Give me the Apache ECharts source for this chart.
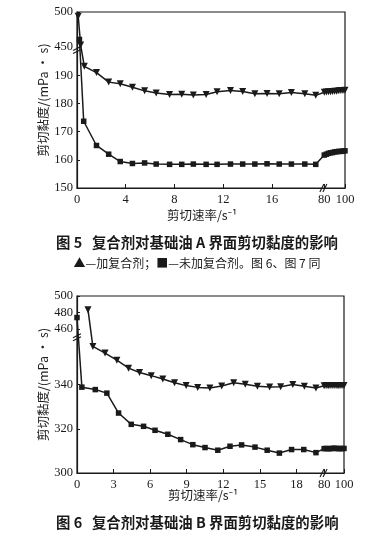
<!DOCTYPE html>
<html><head><meta charset="utf-8">
<script src="https://cdn.jsdelivr.net/npm/echarts@6/dist/echarts.min.js"></script>
<style>html,body{margin:0;padding:0;background:#fff}#c{width:381px;height:541px}</style>
</head><body><div id="c"></div>
<script>
// ---- Fig. 5 : base oil A ----
const xA_add  = [0.1, 0.3, 0.6, 1.6, 2.6, 3.55, 4.55, 5.55, 6.5, 7.6, 8.6, 9.55, 10.6, 11.5, 12.6, 13.6, 14.6, 15.6, 16.6, 17.6, 18.7, 19.6, 80, 82, 84, 86, 88, 90, 92, 94, 96, 98, 100];
const yA_add  = [494, 453, 193.2, 191.0, 187.6, 187.0, 185.8, 184.5, 183.7, 183.2, 183.3, 183.0, 183.2, 184.2, 184.6, 184.3, 183.5, 183.6, 183.5, 183.9, 183.5, 182.9, 184.0, 184.1, 184.2, 184.2, 184.3, 184.4, 184.4, 184.5, 184.6, 184.6, 184.7];
const xA_none = [0.2, 0.55, 1.6, 2.6, 3.55, 4.55, 5.55, 6.5, 7.6, 8.6, 9.55, 10.6, 11.5, 12.6, 13.6, 14.6, 15.6, 16.6, 17.6, 18.7, 19.6, 80, 82, 84, 86, 88, 90, 92, 94, 96, 98, 100];
const yA_none = [461, 173.7, 165.1, 162.0, 159.4, 158.7, 158.9, 158.5, 158.4, 158.4, 158.5, 158.4, 158.4, 158.5, 158.5, 158.5, 158.6, 158.5, 158.5, 158.5, 158.4, 161.7, 162.0, 162.3, 162.5, 162.6, 162.8, 162.9, 163.0, 163.0, 163.1, 163.2];
const xTicksA = [0, 4, 8, 12, 16, 80, 100];
const yTicksA = [150, 160, 170, 180, 190, 450, 500];

// ---- Fig. 6 : base oil B ----
const xB_add  = [0.9, 1.3, 2.3, 3.27, 4.23, 5.13, 6.09, 7.04, 8.0, 8.95, 9.9, 10.9, 11.87, 12.85, 13.8, 14.8, 15.8, 16.7, 17.7, 18.65, 19.6, 80, 82, 84, 86, 88, 90, 92, 94, 96, 98, 100];
const yB_add  = [483.5, 357.2, 354.2, 351.0, 347.4, 345.4, 344.0, 342.5, 340.8, 339.5, 338.7, 338.4, 339.3, 340.8, 340.1, 339.2, 338.9, 339.0, 340.0, 339.2, 338.4, 339.4, 339.5, 339.4, 339.5, 339.6, 339.5, 339.5, 339.4, 339.5, 339.6, 339.5];
const xB_none = [0, 0.4, 1.5, 2.45, 3.41, 4.45, 5.46, 6.4, 7.45, 8.5, 9.5, 10.5, 11.55, 12.55, 13.5, 14.6, 15.6, 16.6, 17.6, 18.6, 19.6, 80, 82, 84, 86, 88, 90, 92, 94, 96, 98, 100];
const yB_none = [474, 338.8, 337.7, 336.1, 327.1, 322.0, 321.1, 319.3, 317.5, 315.1, 312.8, 311.5, 310.3, 312.1, 312.7, 311.7, 310.3, 309.0, 310.6, 310.6, 309.2, 311.0, 311.1, 311.0, 311.0, 311.1, 311.2, 311.1, 311.0, 311.1, 311.0, 311.1];
const xTicksB = [0, 3, 6, 9, 12, 15, 18, 80, 100];
const yTicksB = [300, 320, 340, 460, 480, 500];

// broken-axis mappings
function txA(x){ return x <= 20 ? x : 20.3 + (x - 80) * 0.085; }
function tyA(v){ return v <= 200 ? v : 200 + (v - 450) * 0.25; }
function txB(x){ return x <= 20 ? x : 20.27 + (x - 80) * 0.0815; }
function tyB(v){ return v <= 360 ? v : 365 + (v - 460) * 0.375; }

const INK = '#1a1a1a';
const NUM_FONT = 'Liberation Serif';
const CJK_FONT = '"Noto Sans CJK SC", "Noto Sans", sans-serif';

function labelOf(ticks, tf, v){
  const t = ticks.find(k => Math.abs(tf(k) - v) < 1e-6);
  return t === undefined ? '' : String(t);
}
function xAxisCfg(gi, ticks, tf, max){
  const cv = ticks.map(tf);
  return {type:'value', gridIndex:gi, min:0, max:max,
    axisLine:{lineStyle:{color:INK, width:1.2}},
    axisTick:{inside:true, length:4, customValues:cv, lineStyle:{color:INK}},
    axisLabel:{customValues:cv, formatter:v => labelOf(ticks, tf, v), margin:5,
      fontFamily:NUM_FONT, fontSize:12.5, color:INK},
    splitLine:{show:false}};
}
function yAxisCfg(gi, ticks, tf, min, max){
  const cv = ticks.map(tf);
  return {type:'value', gridIndex:gi, min:min, max:max,
    name:'剪切黏度/(mPa · s)', nameLocation:'middle', nameGap:27, nameMoveOverlap:false,
    nameTextStyle:{fontFamily:CJK_FONT, fontSize:12.5, color:INK},
    axisLine:{show:true, lineStyle:{color:INK, width:1.2}},
    axisTick:{show:true, inside:true, length:3, customValues:cv, lineStyle:{color:INK}},
    axisLabel:{customValues:cv, formatter:v => labelOf(ticks, tf, v), margin:4,
      fontFamily:NUM_FONT, fontSize:12.5, color:INK},
    splitLine:{show:false}};
}
function mk(xs, ys, tx, ty, gi, sym, size, rot){
  return {type:'line', xAxisIndex:gi, yAxisIndex:gi,
    data: xs.map((x, i) => [tx(x), ty(ys[i])]),
    symbol:sym, symbolSize:size, symbolRotate:rot || 0,
    lineStyle:{color:INK, width:1.5}, itemStyle:{color:INK},
    showSymbol:true, animation:false, z:3};
}

const chart = echarts.init(document.getElementById('c'), null, {renderer:'canvas'});
chart.setOption({
  animation:false,
  backgroundColor:'#fff',
  grid:[
    {left:77, top:12, width:268, height:176, show:true, borderColor:INK, borderWidth:1.2, backgroundColor:'transparent'},
    {left:77, top:296, width:267, height:177, show:true, borderColor:INK, borderWidth:1.2, backgroundColor:'transparent'}
  ],
  xAxis:[ xAxisCfg(0, xTicksA, txA, txA(100)), xAxisCfg(1, xTicksB, txB, txB(100)) ],
  yAxis:[ yAxisCfg(0, yTicksA, tyA, 150, tyA(500)), yAxisCfg(1, yTicksB, tyB, 300, tyB(500)) ],
  series:[
    mk(xA_add, yA_add, txA, tyA, 0, 'triangle', 7, 180),
    mk(xA_none, yA_none, txA, tyA, 0, 'rect', 5.5),
    mk(xB_add, yB_add, txB, tyB, 1, 'triangle', 7, 180),
    mk(xB_none, yB_none, txB, tyB, 1, 'rect', 5.5)
  ]
});

// break marks and captions
function brk(p, horiz){
  const els = [];
  for (let k = 0; k < 2; k++){
    const o = k * 3;
    els.push({type:'line', z:10, shape: horiz
      ? {x1:p[0]-2+o, y1:p[1]+4, x2:p[0]+2+o, y2:p[1]-4}
      : {x1:p[0]-4, y1:p[1]+2+o, x2:p[0]+4, y2:p[1]-2+o},
      style:{stroke:INK, lineWidth:1.1}});
  }
  return els;
}
const pYA = chart.convertToPixel({gridIndex:0}, [0, 199.5]);
const pYB = chart.convertToPixel({gridIndex:1}, [0, 362]);
const pXA = chart.convertToPixel({gridIndex:0}, [20.1, 150]);
const pXB = chart.convertToPixel({gridIndex:1}, [20.1, 300]);

const texts = [
  {type:'text', x:202, y:215, style:{text:'剪切速率/s⁻¹', font:'12.5px ' + CJK_FONT, fill:INK, align:'center', verticalAlign:'middle'}},
  {type:'text', x:56, y:243, style:{text:'图 5   复合剂对基础油 A 界面剪切黏度的影响', font:'bold 14.4px ' + CJK_FONT, fill:INK, align:'left', verticalAlign:'middle'}},
  {type:'text', x:197, y:263, style:{text:'▲—加复合剂；■—未加复合剂。图 6、图 7 同', font:'12px ' + CJK_FONT, fill:INK, align:'center', verticalAlign:'middle'}},
  {type:'text', x:203, y:495, style:{text:'剪切速率/s⁻¹', font:'12.5px ' + CJK_FONT, fill:INK, align:'center', verticalAlign:'middle'}},
  {type:'text', x:56, y:523, style:{text:'图 6   复合剂对基础油 B 界面剪切黏度的影响', font:'bold 14.4px ' + CJK_FONT, fill:INK, align:'left', verticalAlign:'middle'}}
];
chart.setOption({graphic: [].concat(
  brk(pYA, false), brk(pYB, false),
  brk(pXA, true), brk(pXB, true), texts)});
</script>
</body></html>
